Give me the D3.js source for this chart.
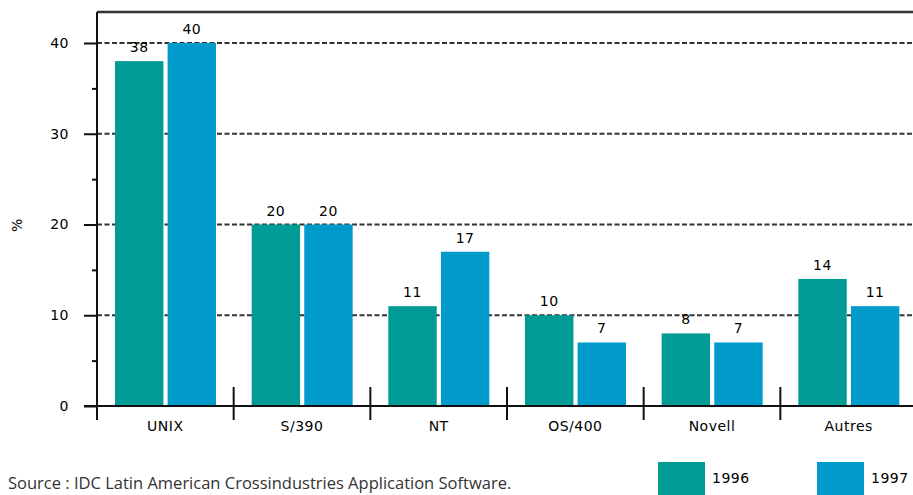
<!DOCTYPE html>
<html>
<head>
<meta charset="utf-8">
<script src="https://cdn.jsdelivr.net/npm/d3@7"></script>
<style>
    html, body { margin: 0; padding: 0; background: #fff; }
    svg { display: block; }
    .lbl { font-family: 'DejaVu Sans', sans-serif; font-size: 14px; letter-spacing: 0.5px; fill: #000; }
</style>
</head>
<body>
<div class="chart"></div>
<script>
    'use strict';

    var categories = ['UNIX', 'S/390', 'NT', 'OS/400', 'Novell', 'Autres'];
    var years = ['1996', '1997'];
    var values1996 = [38, 20, 11, 10, 8, 14];
    var values1997 = [40, 20, 17, 7, 7, 11];
    var majorTicks = [0, 10, 20, 30, 40];
    var minorTicks = [5, 15, 25, 35];
    var colors = ['#009b94', '#009acb'];

    var width = 913, height = 495;
    var series = [values1996, values1997];

    var svg = d3.select('.chart').append('svg')
        .attr('width', width)
        .attr('height', height);

    var x = d3.scaleBand().domain(categories).range([97, 917]);
    var x1 = d3.scaleBand().domain(years).range([18, 119]).paddingInner(0.08);
    var y = d3.scaleLinear().domain([0, 40]).range([406, 43]);

    // dashed grid, drawn under the bars
    svg.append('g').selectAll('line')
        .data(majorTicks.filter(function(d){ return d > 0; }))
        .enter().append('line')
        .attr('x1', 97).attr('x2', width)
        .attr('y1', function(d){ return y(d); })
        .attr('y2', function(d){ return y(d); })
        .attr('stroke', '#333')
        .attr('stroke-width', 2)
        .attr('stroke-dasharray', '5,2.5');

    var groups = svg.append('g').selectAll('g')
        .data(categories)
        .enter().append('g')
        .attr('transform', function(d){ return 'translate(' + x(d) + ',0)'; });

    years.forEach(function(yr, s){
        groups.append('rect')
            .attr('x', x1(yr))
            .attr('width', x1.bandwidth())
            .attr('y', function(d, i){ return y(series[s][i]); })
            .attr('height', function(d, i){ return y(0) - y(series[s][i]); })
            .attr('fill', colors[s]);

        groups.append('text')
            .attr('class', 'lbl')
            .attr('text-anchor', 'middle')
            .attr('x', x1(yr) + x1.bandwidth() / 2)
            .attr('y', function(d, i){ return y(series[s][i]) - 9; })
            .text(function(d, i){ return series[s][i]; });
    });

    // y axis
    var yAxis = svg.append('g')
        .attr('transform', 'translate(97,0)')
        .call(d3.axisLeft(y).tickValues(majorTicks).tickSize(13).tickPadding(15));
    yAxis.select('.domain').remove();
    yAxis.selectAll('line').attr('stroke', '#111').attr('stroke-width', 2);
    yAxis.selectAll('text').attr('class', 'lbl').attr('font-size', null).attr('font-family', null);

    var yMinor = svg.append('g')
        .attr('transform', 'translate(97,0)')
        .call(d3.axisLeft(y).tickValues(minorTicks).tickSize(5).tickFormat(''));
    yMinor.select('.domain').remove();
    yMinor.selectAll('line').attr('stroke', '#111').attr('stroke-width', 2);

    // frame lines
    svg.append('line').attr('x1', 97).attr('x2', 97).attr('y1', 12).attr('y2', 420)
        .attr('stroke', '#111').attr('stroke-width', 2);
    svg.append('line').attr('x1', 97).attr('x2', width).attr('y1', 12).attr('y2', 12)
        .attr('stroke', '#333').attr('stroke-width', 2.5);
    svg.append('line').attr('x1', 84).attr('x2', width).attr('y1', y(0)).attr('y2', y(0))
        .attr('stroke', '#111').attr('stroke-width', 2);

    // category separators
    svg.append('g').selectAll('line')
        .data(categories.slice(1))
        .enter().append('line')
        .attr('x1', function(d){ return x(d); })
        .attr('x2', function(d){ return x(d); })
        .attr('y1', 387).attr('y2', 420)
        .attr('stroke', '#111').attr('stroke-width', 2);

    svg.append('g').selectAll('text')
        .data(categories)
        .enter().append('text')
        .attr('class', 'lbl')
        .attr('text-anchor', 'middle')
        .attr('x', function(d){ return x(d) + x.bandwidth() / 2; })
        .attr('y', 431)
        .text(function(d){ return d; });

    svg.append('text')
        .attr('class', 'lbl')
        .attr('text-anchor', 'middle')
        .attr('transform', 'translate(22,225) rotate(-90)')
        .text('%');

    // legend
    var legendX = [658, 817];
    years.forEach(function(yr, s){
        svg.append('rect')
            .attr('x', legendX[s]).attr('y', 462)
            .attr('width', 47).attr('height', 33)
            .attr('fill', colors[s]);
        svg.append('text')
            .attr('class', 'lbl')
            .attr('x', legendX[s] + 54).attr('y', 483)
            .text(yr);
    });

    svg.append('text')
        .attr('x', 8).attr('y', 489)
        .attr('font-family', "'Open Sans', sans-serif")
        .attr('font-size', 16.5)
        .attr('fill', '#333')
        .text('Source : IDC Latin American Crossindustries Application Software.');
</script>
</body>
</html>
